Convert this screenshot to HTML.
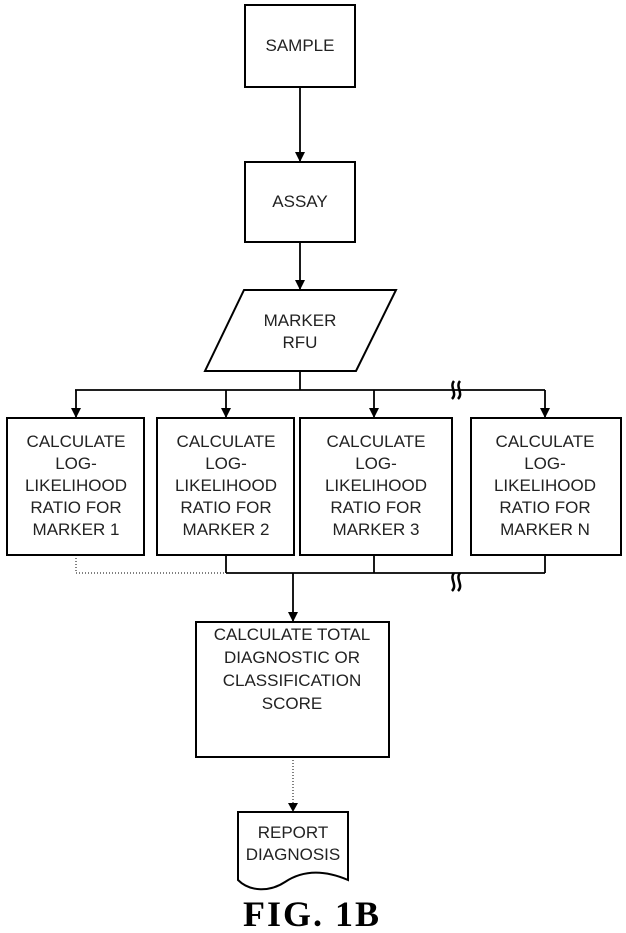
<!DOCTYPE html>
<html><head><meta charset="utf-8"><style>
html,body{margin:0;padding:0;background:#fff;}
svg{display:block;}
text{font-family:"Liberation Sans",sans-serif;font-size:17px;fill:#222;text-anchor:middle;}
</style></head><body>
<svg width="626" height="933" viewBox="0 0 626 933" xmlns="http://www.w3.org/2000/svg">
<defs><marker id="a" markerWidth="10" markerHeight="10" refX="9" refY="5" orient="auto" markerUnits="userSpaceOnUse"><path d="M0,0 L10,5 L0,10 Z" fill="#000"/></marker></defs>
<g fill="none" stroke="#000" stroke-width="2">
<rect x="245" y="5" width="110" height="82"/>
<rect x="245" y="162" width="110" height="80"/>
<polygon points="244,290 396,290 356,371 205,371"/>
<rect x="7" y="418" width="137" height="137"/>
<rect x="157" y="418" width="137" height="137"/>
<rect x="300" y="418" width="152" height="137"/>
<rect x="471" y="418" width="150" height="137"/>
<rect x="196" y="622" width="193" height="135"/>
<path d="M238,812 H348 V880 C320,868 300,872 285,882 C270,892 250,892 238,880 Z"/>
</g>
<g stroke="#000" stroke-width="1.8" fill="none">
<line x1="300" y1="87" x2="300" y2="161" marker-end="url(#a)"/>
<line x1="300" y1="242" x2="300" y2="289" marker-end="url(#a)"/>
<line x1="300" y1="371" x2="300" y2="390"/>
<line x1="75" y1="390" x2="545" y2="390"/>
<line x1="76" y1="390" x2="76" y2="417" marker-end="url(#a)"/>
<line x1="226" y1="390" x2="226" y2="417" marker-end="url(#a)"/>
<line x1="374" y1="390" x2="374" y2="417" marker-end="url(#a)"/>
<line x1="545" y1="390" x2="545" y2="417" marker-end="url(#a)"/>
<line x1="226" y1="555" x2="226" y2="573"/>
<line x1="374" y1="555" x2="374" y2="573"/>
<line x1="545" y1="555" x2="545" y2="573"/>
<line x1="226" y1="573" x2="545" y2="573"/>
<line x1="293" y1="573" x2="293" y2="621" marker-end="url(#a)"/>
</g>
<line x1="76" y1="555" x2="76" y2="573" stroke="#000" stroke-width="1" stroke-dasharray="1,2"/>
<line x1="76" y1="573" x2="226" y2="573" stroke="#000" stroke-width="1" stroke-dasharray="1,2"/>
<line x1="293" y1="757" x2="293" y2="805" stroke="#000" stroke-width="1" stroke-dasharray="1,2"/>
<path d="M288,803 L298,803 L293,812 Z" fill="#000"/>
<g stroke="#000" stroke-width="2.5" fill="none">
<path d="M454,381 c-5,6 4,12 -2,18 M460,381 c-5,6 4,12 -2,18"/>
<path d="M454,573 c-5,6 4,12 -2,18 M460,573 c-5,6 4,12 -2,18"/>
</g>
<text x="300" y="51">SAMPLE</text>
<text x="300" y="207">ASSAY</text>
<text x="300" y="326">MARKER</text>
<text x="300" y="348">RFU</text>
<g>
<text x="76" y="447">CALCULATE</text><text x="76" y="469">LOG-</text><text x="76" y="491">LIKELIHOOD</text><text x="76" y="513">RATIO FOR</text><text x="76" y="535">MARKER 1</text>
<text x="226" y="447">CALCULATE</text><text x="226" y="469">LOG-</text><text x="226" y="491">LIKELIHOOD</text><text x="226" y="513">RATIO FOR</text><text x="226" y="535">MARKER 2</text>
<text x="376" y="447">CALCULATE</text><text x="376" y="469">LOG-</text><text x="376" y="491">LIKELIHOOD</text><text x="376" y="513">RATIO FOR</text><text x="376" y="535">MARKER 3</text>
<text x="545" y="447">CALCULATE</text><text x="545" y="469">LOG-</text><text x="545" y="491">LIKELIHOOD</text><text x="545" y="513">RATIO FOR</text><text x="545" y="535">MARKER N</text>
</g>
<text x="292" y="640">CALCULATE TOTAL</text>
<text x="292" y="663">DIAGNOSTIC OR</text>
<text x="292" y="686">CLASSIFICATION</text>
<text x="292" y="709">SCORE</text>
<text x="293" y="838">REPORT</text>
<text x="293" y="860">DIAGNOSIS</text>
<text x="312" y="926" style="font-family:'Liberation Serif',serif;font-size:36px;font-weight:bold;fill:#000;letter-spacing:2px">FIG. 1B</text>
</svg>
</body></html>
